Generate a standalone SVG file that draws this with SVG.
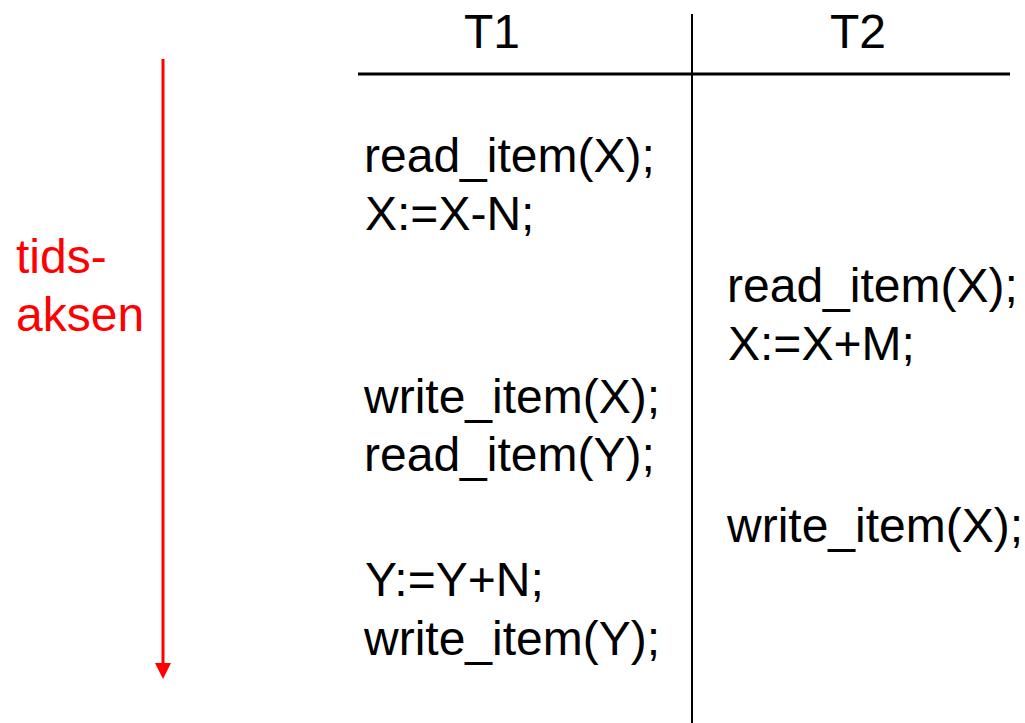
<svg xmlns="http://www.w3.org/2000/svg" width="1025" height="723" viewBox="0 0 1025 723">
  <style>
    .code { font-family: "Liberation Sans", Arial, sans-serif; font-size: 48px; fill: #000; }
    .axis { font-family: "Liberation Sans", Arial, sans-serif; font-size: 48px; fill: #ff0000; }
    .rule { stroke: #000; fill: none; }
  </style>
  <rect width="1025" height="723" fill="#fff"/>

  <!-- table frame -->
  <g id="frame">
    <line class="rule" x1="358" y1="74" x2="1010" y2="74" stroke-width="3"/>
    <line class="rule" x1="692" y1="14" x2="692" y2="723" stroke-width="2"/>
  </g>

  <!-- column headers -->
  <g id="header-t1"><text class="code" x="492" y="48" text-anchor="middle">T1</text></g>
  <g id="header-t2"><text class="code" x="858" y="48" text-anchor="middle">T2</text></g>

  <!-- time axis -->
  <g id="time-axis">
    <line x1="163" y1="59" x2="163" y2="665" stroke="#ff0000" stroke-width="3"/>
    <polygon points="155,663 171,663 163,679" fill="#ff0000"/>
    <text class="axis" x="16" y="273">tids-</text>
    <text class="axis" x="16" y="331">aksen</text>
  </g>

  <!-- operations of T1 -->
  <g id="t1-ops">
    <text class="code" x="364" y="172">read_item(X);</text>
    <text class="code" x="365" y="230">X:=X-N;</text>
    <text class="code" x="364" y="413">write_item(X);</text>
    <text class="code" x="364" y="471">read_item(Y);</text>
    <text class="code" x="365" y="596">Y:=Y+N;</text>
    <text class="code" x="364" y="655">write_item(Y);</text>
  </g>

  <!-- operations of T2 -->
  <g id="t2-ops">
    <text class="code" x="727" y="302">read_item(X);</text>
    <text class="code" x="728" y="360">X:=X+M;</text>
    <text class="code" x="727" y="542">write_item(X);</text>
  </g>
</svg>
